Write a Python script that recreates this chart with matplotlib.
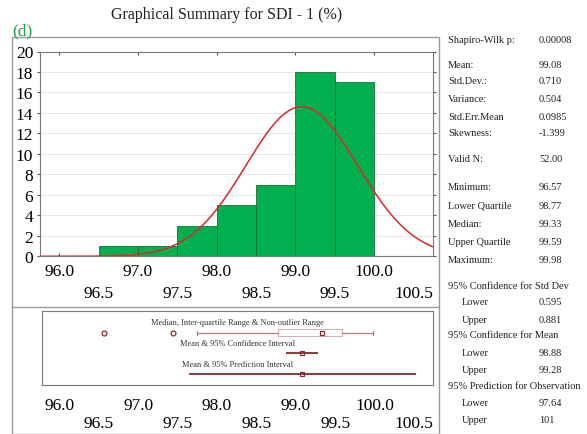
import numpy as np
import matplotlib
matplotlib.use("Agg")
import matplotlib.pyplot as plt
from matplotlib.patches import Rectangle
from matplotlib.lines import Line2D

# --- data ---
bin_edges = [96.5, 97.0, 97.5, 98.0, 98.5, 99.0, 99.5, 100.0]
counts = [1, 1, 3, 5, 7, 18, 17]

mean, std_dev, n_valid = 99.08, 0.710, 52
q1, median, q3 = 98.77, 99.33, 99.59
whisker_lo, whisker_hi = 97.74, 99.98
outliers = [96.57, 97.44]
ci_mean = (98.88, 99.28)
pred_int = (97.64, 100.52)

major_ticks = [96.0, 97.0, 98.0, 99.0, 100.0]
minor_ticks = [96.5, 97.5, 98.5, 99.5, 100.5]
y_ticks = [0, 2, 4, 6, 8, 10, 12, 14, 16, 18, 20]

stat_labels = ["Shapiro-Wilk p:", "Mean:", "Std.Dev.:", "Variance:", "Std.Err.Mean",
               "Skewness:", "Valid N:", "Minimum:", "Lower Quartile", "Median:",
               "Upper Quartile", "Maximum:", "95% Confidence for Std Dev", "Lower",
               "Upper", "95% Confidence for Mean", "Lower", "Upper",
               "95% Prediction for Observation", "Lower", "Upper"]
stat_values = ["0.00008", "99.08", "0.710", "0.504", "0.0985", "-1.399", "52.00",
               "96.57", "98.77", "99.33", "99.59", "99.98", "", "0.595", "0.881",
               "", "98.88", "99.28", "", "97.64", "101"]

# --- layout (pixels of a 587x435 canvas) ---
W, H = 587, 435
stat_rows_y = [40.5, 65, 82, 99.5, 117, 134, 160, 188, 206.5, 224.5, 243, 261,
               287, 303, 320.5, 336, 353, 370.5, 387, 404, 421]

plt.rcParams['font.family'] = ['Liberation Serif', 'DejaVu Serif']
plt.rcParams['text.color'] = '#222222'

fig = plt.figure(figsize=(W / 100, H / 100), dpi=100)

def px_rect(left, top, right, bottom):
    return [left / W, 1 - bottom / H, (right - left) / W, (bottom - top) / H]

# outer frame + separator
fig.patches.append(Rectangle((12 / W, 0), (438.7 - 12) / W, 1 - 38.3 / H,
                             transform=fig.transFigure, fill=False,
                             edgecolor='#9a9a9a', lw=1.0))
fig.lines.append(Line2D([12 / W, 438.7 / W], [1 - 307.5 / H] * 2,
                        transform=fig.transFigure, color='#9a9a9a', lw=1.0))

fig.text(227 / W, 1 - 15 / H, "Graphical Summary for SDI - 1 (%)",
         ha='center', va='center', fontsize=11.5)
fig.text(12 / W, 1 - 31 / H, "(d)", ha='left', va='center', fontsize=12.5,
         color='#1ea04a')

# --- histogram ---
ax = fig.add_axes(px_rect(39.5, 52.5, 433.3, 257.3))
widths = np.diff(bin_edges)
ax.bar(bin_edges[:-1], counts, width=widths, align='edge', color='#00b04f',
       edgecolor='#1b6e35', linewidth=0.6, zorder=2)
xs = np.linspace(95.75, 100.75, 400)
binw = widths[0]
pdf = n_valid * binw / (std_dev * np.sqrt(2 * np.pi)) * np.exp(-0.5 * ((xs - mean) / std_dev) ** 2)
ax.plot(xs, pdf, color='#e0262c', lw=1.1, zorder=3)
ax.set_xlim(95.75, 100.75)
ax.set_ylim(0, 20)
ax.set_yticks(y_ticks)
ax.set_xticks(major_ticks)
ax.set_xticks(minor_ticks, minor=True)
ax.set_xticklabels([f"{v:.1f}" for v in major_ticks])
ax.set_xticklabels([f"{v:.1f}" for v in minor_ticks], minor=True)
ax.tick_params(axis='x', which='major', labelsize=12.5, pad=4.5, length=2,
               direction='in', top=True, color='#555555')
ax.tick_params(axis='x', which='minor', labelsize=12.5, pad=21, length=0)
ax.tick_params(axis='y', labelsize=12.5, pad=2, length=2.5, direction='out',
               right=True, color='#555555')
ax.yaxis.grid(True, color='#e6e6e6', lw=0.7, zorder=0)
ax.set_axisbelow(True)
for s in ax.spines.values():
    s.set_color('#7a7a7a')
    s.set_linewidth(0.8)

# --- box / interval panel ---
bx = fig.add_axes(px_rect(42, 312.3, 433, 386))
bx.set_xlim(95.78, 100.74)
bx.set_ylim(1, 0)
box_color = '#8b2a2a'
row_box, row_ci, row_pi = 0.29, 0.565, 0.85
bx.bxp([{'med': median, 'q1': q1, 'q3': q3, 'whislo': whisker_lo,
         'whishi': whisker_hi, 'fliers': outliers}],
       positions=[row_box], widths=0.1, orientation='horizontal', manage_ticks=False,
       showfliers=True,
       boxprops=dict(color='#d4b3b3', lw=0.8),
       whiskerprops=dict(color='#c07070', lw=0.8),
       capprops=dict(color='#c07070', lw=0.8),
       medianprops=dict(lw=0),
       flierprops=dict(marker='o', markersize=3.5, markerfacecolor='none',
                       markeredgecolor=box_color, markeredgewidth=0.9))
sq = dict(marker='s', ms=3.5, mfc='none', mec=box_color, mew=0.9)
bx.plot([median], [row_box], **sq)
bx.hlines(row_ci, *ci_mean, color=box_color, lw=1.3)
bx.plot([mean], [row_ci], **sq)
bx.hlines(row_pi, *pred_int, color=box_color, lw=1.3)
bx.plot([mean], [row_pi], **sq)

for yy, txt in [(0.145, "Median, Inter-quartile Range & Non-outlier Range"),
                (0.43, "Mean & 95% Confidence Interval"),
                (0.71, "Mean & 95% Prediction Interval")]:
    bx.text(0.5, yy, txt, transform=bx.get_yaxis_transform(), ha='center',
            va='center', fontsize=6, color='#333333')

bx.set_yticks([])
bx.set_xticks(major_ticks)
bx.set_xticks(minor_ticks, minor=True)
bx.set_xticklabels([f"{v:.1f}" for v in major_ticks])
bx.set_xticklabels([f"{v:.1f}" for v in minor_ticks], minor=True)
bx.tick_params(axis='x', which='major', labelsize=12.5, pad=8.5, length=0)
bx.tick_params(axis='x', which='minor', labelsize=12.5, pad=21.5, length=0)
for s in bx.spines.values():
    s.set_color('#7a7a7a')
    s.set_linewidth(0.8)

# --- statistics column ---
for lab, val, yy in zip(stat_labels, stat_values, stat_rows_y):
    indent = lab in ("Lower", "Upper")
    fig.text((462 if indent else 448) / W, 1 - yy / H, lab, ha='left',
             va='center', fontsize=7.5)
    if val:
        fig.text(539 / W, 1 - yy / H, val, ha='left', va='center', fontsize=7.5)

fig.savefig("out.png", dpi=100)
